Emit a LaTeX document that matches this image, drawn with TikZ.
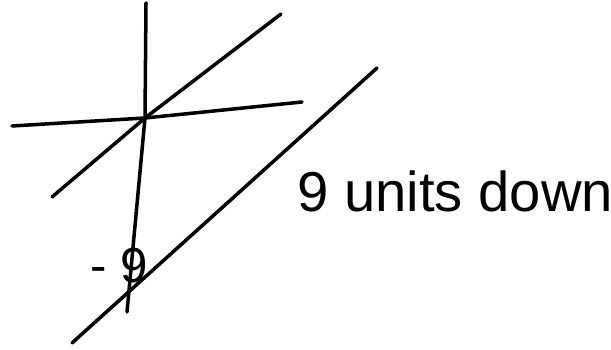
\documentclass[tikz,border=0pt]{standalone}
\usepackage{fontspec}
\setmainfont{Liberation Sans}
\usepackage{tikz}
\usetikzlibrary{positioning,calc}

\begin{document}
\begin{tikzpicture}[
  x=0.02cm,y=-0.02cm,
  axis/.style={line width=2pt,line cap=round,line join=round},
  graphline/.style={line width=2pt,line cap=round,line join=round},
  lbl/.style={inner sep=0pt,font=\fontsize{32}{36}\selectfont}
]
\useasboundingbox (0,0) rectangle (611,350);
% axes
\coordinate (o) at (145,118);
\coordinate (ytop) at (146,3);
\coordinate (ybot) at (127,312);
\coordinate (xl) at (12,126);
\coordinate (xr) at (302,102);
\draw[axis] (ytop)--(o)--(ybot);
\draw[axis] (xl)--(o)--(xr);
% line through the origin and the one shifted down
\coordinate (a1) at (52,197);
\coordinate (a2) at (281,14);
\coordinate (b1) at (72,343);
\coordinate (b2) at (377,68);
\draw[graphline] (a1)--(o)--(a2);
\draw[graphline] (b1)--(b2);
% labels
\node[lbl,font=\fontsize{28}{32}\selectfont] (yint) at (119,266) {- 9};
\node[lbl,anchor=base west] (shift) at (297,212) {9 units down};
\end{tikzpicture}
\end{document}
